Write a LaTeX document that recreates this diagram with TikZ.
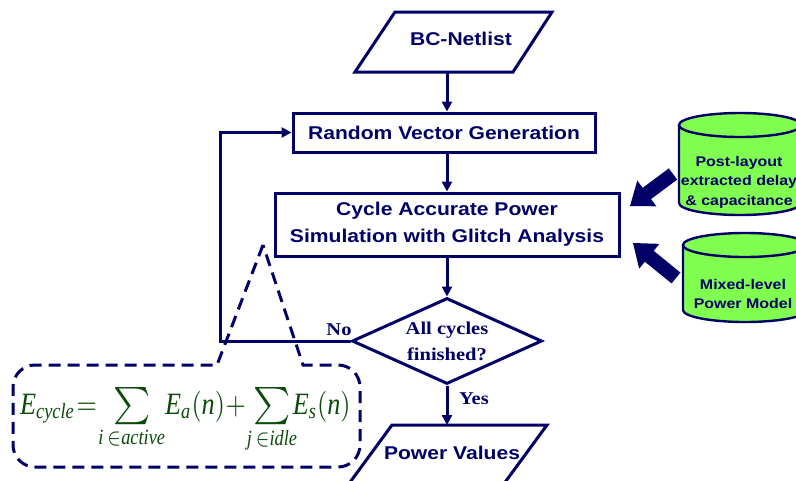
\documentclass[tikz,border=0pt]{standalone}
\usepackage{amsmath}
\usepackage{graphicx}
\usepackage{fontspec}
\setmainfont{Liberation Sans}[FakeStretch=1.14]
\newfontfamily\tms{Liberation Serif}[FakeStretch=1.14]
\newfontfamily\tmsplain{Liberation Serif}
\usetikzlibrary{arrows.meta,shapes.geometric,calc}
\definecolor{navy}{RGB}{0,0,102}
\definecolor{dbgreen}{RGB}{128,255,80}
\definecolor{eqgreen}{RGB}{10,75,10}
\newcommand{\ev}[1]{\text{\tmsplain\itshape #1}}
\newcommand{\bigsum}{\mathop{\vcenter{\hbox{\scalebox{1.35}[1.2]{$\textstyle\sum$}}}}\limits}

\begin{document}
\begin{tikzpicture}[x=1pt,y=-1pt,
  procbox/.style={draw=navy, line width=3pt, fill=white, text=navy,
    font=\bfseries\fontsize{18.5}{27}\selectfont, align=center, inner sep=0pt},
  iotext/.style={text=navy, font=\bfseries\fontsize{18.5}{27}\selectfont},
  iobox/.style={draw=navy, line width=3pt, fill=white},
  link/.style={draw=navy, line width=3pt, -{Triangle[length=10pt,width=10pt]}},
  lbl/.style={text=navy, font=\tms\bfseries\fontsize{18}{26}\selectfont, align=center, inner sep=0pt},
  dbtext/.style={text=navy, font=\bfseries\fontsize{14}{19.5}\selectfont, align=center, inner sep=0pt},
  db/.style={draw=navy, line width=2.4pt, fill=dbgreen},
  callout/.style={draw=navy, line width=3pt, dash pattern=on 12pt off 7pt},
  fatarrow/.style={fill=navy}
]
\useasboundingbox (0,0) rectangle (796,480);
\clip (0,0) rectangle (796,480);

% input netlist
\draw[iobox] (395,12) -- (552,12) -- (513,72) -- (355,72) -- cycle;
\node[iotext] (bc) at (461,39) {BC-Netlist};
\coordinate (bcbot) at (447,72);

% process boxes
\node[procbox, minimum width=302, minimum height=39] (rvg) at (444,132.5) {Random Vector Generation};
\node[procbox, minimum width=344, minimum height=63] (sim) at (447,224.5) {Cycle Accurate Power\\Simulation with Glitch Analysis};

% decision
\node[diamond, draw=navy, line width=3pt, minimum width=190, minimum height=86, inner sep=0pt] (dec) at (447,341) {};
\node[lbl] (dectext) at (dec.center) {All cycles\\finished?};

% output values
\draw[iobox] (392,425) -- (547,425) -- (503,485) -- (348,485) -- cycle;
\node[iotext] (pv) at (452,453) {Power Values};
\coordinate (pvtop) at (447,425);

% flow connectors
\draw[link] (bcbot) -- (bcbot |- rvg.north);
\draw[link] (sim.north |- rvg.south) -- (sim.north);
\draw[link] (sim.south) -- (dec.north);
\draw[link] (dec.south) -- (pvtop);
\draw[link] (dec.west) -- ++(-130,0) |- (rvg.west);
\node[lbl] (no) at (339,330) {No};
\node[lbl] (yes) at (474,399) {Yes};

% database cylinders
\draw[db] (679,125) -- (679,203) arc[start angle=180, end angle=0, x radius=61, y radius=12] -- (801,125);
\draw[db] (740,125) ellipse [x radius=61, y radius=12];
\node[dbtext] (pl) at (739,182) {Post-layout\\extracted delay\\\& capacitance};

\draw[db] (683,245) -- (683,310) arc[start angle=180, end angle=0, x radius=62, y radius=12] -- (807,245);
\draw[db] (745,245) ellipse [x radius=62, y radius=12];
\node[dbtext] (ml) at (743,294) {Mixed-level\\Power Model};

% fat arrows from the cylinders into the simulator
\coordinate (t1) at (630,206); \coordinate (s1) at (673,174);
\coordinate (h1) at ($(t1)!21pt!(s1)$);
\fill[fatarrow] (t1) -- ($(h1)!16pt!90:(t1)$) -- ($(h1)!7pt!90:(t1)$) -- ($(s1)!7pt!90:(t1)$)
  -- ($(s1)!7pt!-90:(t1)$) -- ($(h1)!7pt!-90:(t1)$) -- ($(h1)!16pt!-90:(t1)$) -- cycle;
\coordinate (t2) at (633,243); \coordinate (s2) at (676,278);
\coordinate (h2) at ($(t2)!21pt!(s2)$);
\fill[fatarrow] (t2) -- ($(h2)!16pt!90:(t2)$) -- ($(h2)!7pt!90:(t2)$) -- ($(s2)!7pt!90:(t2)$)
  -- ($(s2)!7pt!-90:(t2)$) -- ($(h2)!7pt!-90:(t2)$) -- ($(h2)!16pt!-90:(t2)$) -- cycle;

% energy formula callout
\draw[callout] (263,245) -- (217,365) [rounded corners=22] -- (13,365) -- (13,467) -- (360,467) -- (360,365) [sharp corners] -- (303,365) -- cycle;
\node[anchor=base west, text=eqgreen, inner sep=0pt] (eq) at (20,414) {\scalebox{2.62}[3.1]{\fontsize{10}{12}\selectfont
  \thickmuskip=1mu \medmuskip=0.5mu
  $\ev{E}_{\ev{cycle}} = \bigsum_{\ev{i}\,\in\ev{active}}\! \ev{E}_{\ev{a}}(\ev{n}) + \bigsum_{\ev{j}\,\in\ev{idle}}\!\! \ev{E}_{\ev{s}}(\ev{n})$}};
\end{tikzpicture}
\end{document}
